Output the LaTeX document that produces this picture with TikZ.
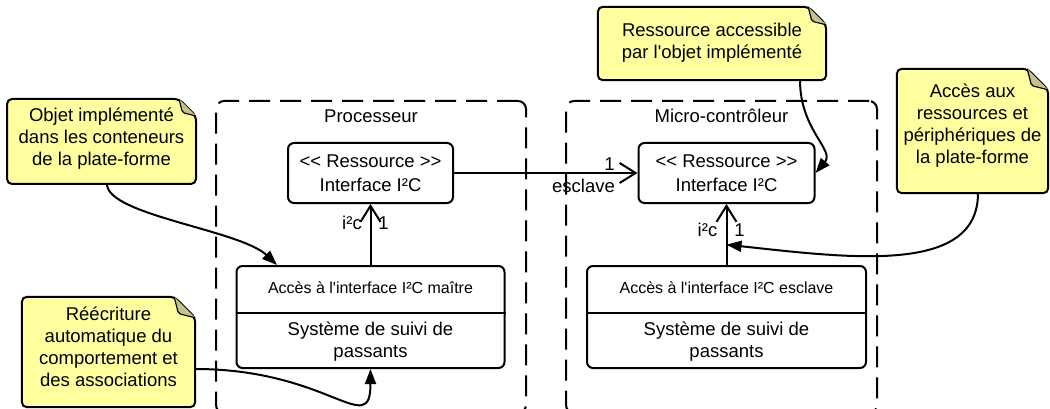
\documentclass[tikz,border=0pt]{standalone}
\usepackage{fontspec}
\setmainfont{Liberation Sans}[Ligatures=TeXOff]
\usetikzlibrary{arrows.meta,calc,backgrounds}
\definecolor{notey}{RGB}{255,255,160}
\definecolor{notefold}{RGB}{196,196,140}
\newcommand\notebg[2]{%
 \begin{pgfonlayer}{background}
 \path[fill=notey, draw=black, line width=2pt, rounded corners=5pt]
   (#1.south west) -- (#1.north west) -- ($(#1.north east)+(-#2,0)$) -- ($(#1.north east)+(0,#2)$) -- (#1.south east) -- cycle;
 \path[fill=notefold, draw=black, line width=1.2pt, rounded corners=2pt]
   ($(#1.north east)+(-#2,0)$) -- ($(#1.north east)+(-0.8*#2,0.8*#2)$) -- ($(#1.north east)+(0,#2)$);
 \end{pgfonlayer}}
\begin{document}
\begin{tikzpicture}[x=1pt,y=-1pt,line width=2pt,
  txt/.style={font=\fontsize{18.5}{22}\selectfont, align=center, inner sep=0pt},
  smalltxt/.style={font=\fontsize{16}{19}\selectfont, inner sep=0pt},
  container/.style={draw, line width=2pt, dash pattern=on 21pt off 10pt, rounded corners=8pt, inner sep=0pt},
  classbox/.style={draw, line width=2pt, rounded corners=6pt, inner sep=0pt},
  divider/.style={line width=2pt},
  noteframe/.style={inner sep=0pt},
  assoc/.style={line width=2pt, -{Straight Barb[length=16pt,width=20pt]}},
  noteline/.style={line width=2pt, -{Triangle[length=15pt,width=11pt]}},
]
\useasboundingbox (0,0) rectangle (1050,409);
\clip (0,0) rectangle (1050,409);

% containers
\node[container, minimum width=310pt, minimum height=312pt] (proc) at (371,257) {};
\node[container, minimum width=311pt, minimum height=312pt] (micro) at (721.5,257) {};
\node[txt, anchor=base] (proct) at (371,123) {Processeur};
\node[txt, anchor=base] (microt) at (721.5,123) {Micro-contrôleur};

% interface boxes
\node[classbox, txt, minimum width=165pt, minimum height=60pt] (if1) at (370.5,173) {\raisebox{2pt}{\parbox{160pt}{\centering <<~Ressource~>>\\[2pt]Interface I²C}}};
\node[classbox, txt, minimum width=176pt, minimum height=60pt] (if2) at (726.5,173) {\raisebox{2pt}{\parbox{170pt}{\centering <<~Ressource~>>\\[2pt]Interface I²C}}};

% access boxes
\node[classbox, minimum width=268pt, minimum height=102pt] (acc1) at (370.5,317) {};
\coordinate (acc1d) at (370.5,313);
\draw[divider] (acc1.west |- acc1d) -- (acc1.east |- acc1d);
\node[smalltxt] (acc1a) at (370.5,288) {Accès à l'interface I²C maître};
\node[txt] (acc1b) at (370.5,342) {Système de suivi de\\passants};

\node[classbox, minimum width=279pt, minimum height=102pt] (acc2) at (726.5,317) {};
\coordinate (acc2d) at (726.5,313);
\draw[divider] (acc2.west |- acc2d) -- (acc2.east |- acc2d);
\node[smalltxt] (acc2a) at (726.5,288) {Accès à l'interface I²C esclave};
\node[txt] (acc2b) at (726.5,342) {Système de suivi de\\passants};

% notes
\node[noteframe, minimum width=187pt, minimum height=83pt] (n1) at (101.5,141.5) {};
\notebg{n1}{17}
\node[txt] (n1t) at ([yshift=2.5pt]n1.center) {Objet implémenté\\dans les conteneurs\\de la plate-forme};

\node[noteframe, minimum width=173pt, minimum height=110pt] (n2) at (108.5,352) {};
\notebg{n2}{21}
\node[txt] (n2t) at ([yshift=5pt]n2.center) {Réécriture\\automatique du\\comportement et\\des associations};

\node[noteframe, minimum width=228pt, minimum height=73pt] (n3) at (712,43.5) {};
\notebg{n3}{18}
\node[txt] (n3t) at ([yshift=1pt]n3.center) {Ressource accessible\\par l'objet implémenté};

\node[noteframe, minimum width=151pt, minimum height=124pt] (n4) at (972.5,131) {};
\notebg{n4}{21}
\node[txt] (n4t) at ([yshift=5pt]n4.center) {Accès aux\\ressources et\\périphériques de\\la plate-forme};

% associations
\draw[assoc] (if1.east) -- (if2.west)
  node[txt, at end, xshift=-28pt, yshift=9pt] (l1) {1}
  node[txt, at end, xshift=-54pt, yshift=-13pt] (l2) {esclave};
\draw[assoc] (acc1.north) -- (if1.south)
  node[txt, at end, xshift=-18.5pt, yshift=-19pt] (l3) {i²c}
  node[txt, at end, xshift=13pt, yshift=-19pt] (l4) {1};
\draw[assoc] (acc2.north) -- (if2.south)
  node[txt, at end, xshift=-19pt, yshift=-26pt] (l5) {i²c}
  node[txt, at end, xshift=13pt, yshift=-26pt] (l6) {1};
\coordinate (v2) at ($(if2.south)!0.667!(acc2.north)$);

% note connectors
\draw[noteline] ([xshift=5.5pt]n1.south) .. controls (107,215) and (240,230) .. ([xshift=41.5pt]acc1.north west);
\draw[noteline] ([yshift=-17pt]n2.east) .. controls (330,369) and (370.5,440) .. (acc1.south);
\draw[noteline] ([xshift=88pt]n3.south) .. controls (800,130) and (835,150) .. (if2.east);
\draw[noteline] ([xshift=5.5pt]n4.south) .. controls (978,275) and (850,258) .. (v2);
\end{tikzpicture}
\end{document}
